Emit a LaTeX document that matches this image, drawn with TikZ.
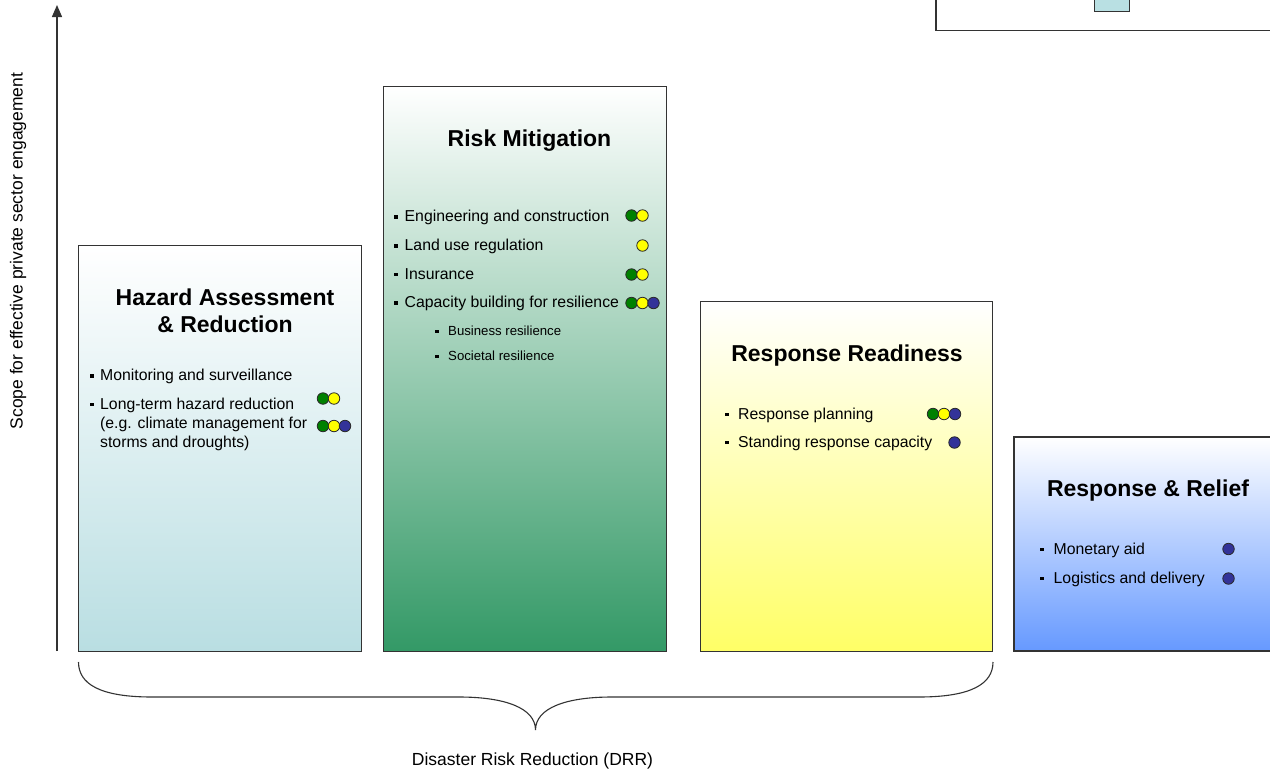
\documentclass[tikz,border=0pt]{standalone}
\usepackage{fontspec}
\setmainfont{Liberation Sans}
\usetikzlibrary{arrows.meta}
\definecolor{boxline}{HTML}{333333}
\definecolor{dotline}{HTML}{2A2A2A}
\definecolor{hzbot}{HTML}{B9DEE2}
\definecolor{hzmid}{HTML}{DCEFF1}
\definecolor{rmbot}{HTML}{339966}
\definecolor{rmmid}{HTML}{C4D8CC}
\definecolor{rrbot}{HTML}{FFFF66}
\definecolor{rrmid}{HTML}{FFFFC2}
\definecolor{rlbot}{HTML}{6699FF}
\definecolor{rlmid}{HTML}{C0D4FF}
\definecolor{dgreen}{HTML}{008000}
\definecolor{dyellow}{HTML}{FFFF00}
\definecolor{dblue}{HTML}{333399}
\definecolor{legfill}{HTML}{B9E0E3}
\tikzset{
  panel/.style={draw=boxline, line width=1.1pt, anchor=north west, inner sep=0pt},
  ttl/.style={anchor=base, inner sep=0pt, font=\bfseries\fontsize{23}{26}\selectfont},
  btext/.style={anchor=base west, inner sep=0pt, font=\fontsize{15.8}{18}\selectfont},
  stext/.style={anchor=base west, inner sep=0pt, font=\fontsize{13.2}{15}\selectfont},
  bul/.style={rectangle, fill=black, minimum size=3.8pt, inner sep=0pt},
  sbul/.style={rectangle, fill=black, minimum size=3.4pt, inner sep=0pt},
  dotbase/.style={circle, draw=dotline, line width=0.8pt, minimum size=11.5pt, inner sep=0pt},
  dg/.style={dotbase, fill=dgreen},
  dy/.style={dotbase, fill=dyellow},
  db/.style={dotbase, fill=dblue},
  axislabel/.style={inner sep=0pt, font=\fontsize{17.5}{20}\selectfont},
}
\begin{document}
\begin{tikzpicture}[x=1pt, y=-1pt]
\useasboundingbox (0,0) rectangle (1270,772);
\fill[white] (0,0) rectangle (1270,772);

% legend remnant (top right)
\coordinate (legTL) at (936,-3);
\coordinate (legBL) at (936,30.5);
\coordinate (legBR) at (1273,30.5);
\draw[boxline, line width=1.1pt] (legTL) -- (legBL) -- (legBR);
\node[draw=boxline, fill=legfill, line width=1.1pt, anchor=north west, inner sep=0pt,
      minimum width=35pt, minimum height=14pt] (legsq) at (1094,-3) {};

% axis
\coordinate (axbot) at (57,651);
\coordinate (axtop) at (57,5);
\draw[boxline, line width=1.4pt, -{Triangle[length=12pt,width=10pt]}] (axbot) -- (axtop);
\node[axislabel, rotate=90] (ylab) at (18,251) {Scope for effective private sector engagement};

% panels
\node[panel, minimum width=283pt, minimum height=406pt,
      top color=white, middle color=hzmid, bottom color=hzbot] (hz) at (78,245) {};
\node[panel, minimum width=283pt, minimum height=565pt,
      top color=white, middle color=rmmid, bottom color=rmbot] (rm) at (383,86) {};
\node[panel, minimum width=292pt, minimum height=350pt,
      top color=white, middle color=rrmid, bottom color=rrbot] (rr) at (700,301) {};
\coordinate (rlTR) at (1272,437);
\coordinate (rlTL) at (1014,437);
\coordinate (rlBL) at (1014,651);
\coordinate (rlBR) at (1272,651);
\path[top color=white, middle color=rlmid, bottom color=rlbot] (rlTL) rectangle (rlBR);
\draw[boxline, line width=1.1pt] (rlTR) -- (rlTL) -- (rlBL) -- (rlBR);

% Hazard Assessment & Reduction
\node[ttl] (hzt1) at (225,305) {Hazard Assessment};
\node[ttl] (hzt2) at (225,332) {\& Reduction};
\node[bul] (hzb1) at (92,376) {};
\node[btext] (hzl1) at (100,380.5) {Monitoring and surveillance};
\node[bul] (hzb2) at (92,404.5) {};
\node[btext] (hzl2) at (100,409) {Long-term hazard reduction};
\node[btext] (hzl3) at (100,428.5) {(e.g. climate management for};
\node[btext] (hzl4) at (100,447) {storms and droughts)};
\node[dg] (hzd1) at (323,398.5) {};
\node[dy] (hzd2) at (334,398.5) {};
\node[dg] (hzd3) at (323,426) {};
\node[dy] (hzd4) at (334,426) {};
\node[db] (hzd5) at (345,426) {};

% Risk Mitigation
\node[ttl] (rmt) at (529.5,146.5) {Risk Mitigation};
\node[bul] (rmb1) at (396,217) {};
\node[btext] (rml1) at (404.5,221.5) {Engineering and construction};
\node[bul] (rmb2) at (396,246) {};
\node[btext] (rml2) at (404.5,250.5) {Land use regulation};
\node[bul] (rmb3) at (396,274.5) {};
\node[btext] (rml3) at (404.5,279) {Insurance};
\node[bul] (rmb4) at (396,303) {};
\node[btext] (rml4) at (404.5,307.5) {Capacity building for resilience};
\node[sbul] (rmb5) at (437,331.5) {};
\node[stext] (rml5) at (448,335) {Business resilience};
\node[sbul] (rmb6) at (437,356.5) {};
\node[stext] (rml6) at (448,360) {Societal resilience};
\node[dg] (rmd1) at (631.5,215.5) {};
\node[dy] (rmd2) at (642.5,215.5) {};
\node[dy] (rmd3) at (642.5,245.5) {};
\node[dg] (rmd4) at (631.5,274.5) {};
\node[dy] (rmd5) at (642.5,274.5) {};
\node[dg] (rmd6) at (631.5,303) {};
\node[dy] (rmd7) at (642.5,303) {};
\node[db] (rmd8) at (653.5,303) {};

% Response Readiness
\node[ttl] (rrt) at (847,361) {Response Readiness};
\node[bul] (rrb1) at (727,414.5) {};
\node[btext] (rrl1) at (738,419) {Response planning};
\node[bul] (rrb2) at (727,442.5) {};
\node[btext] (rrl2) at (738,447) {Standing response capacity};
\node[dg] (rrd1) at (933,414) {};
\node[dy] (rrd2) at (944,414) {};
\node[db] (rrd3) at (955,414) {};
\node[db] (rrd4) at (954.5,442.5) {};

% Response & Relief
\node[ttl] (rlt) at (1148,496.5) {Response \& Relief};
\node[bul] (rlb1) at (1042,549.5) {};
\node[btext] (rll1) at (1053.5,554) {Monetary aid};
\node[bul] (rlb2) at (1042,578.5) {};
\node[btext] (rll2) at (1053.5,583) {Logistics and delivery};
\node[db] (rld1) at (1228.5,549) {};
\node[db] (rld2) at (1228.5,578.5) {};

% brace
\coordinate (brL) at (78.5,662);
\coordinate (brLh) at (152,697);
\coordinate (brLm) at (459,697);
\coordinate (brTip) at (535.5,730);
\coordinate (brRm) at (612,697);
\coordinate (brRh) at (919,697);
\coordinate (brR) at (993,662);
\draw[boxline, line width=1.1pt]
  (brL) .. controls (78.5,684) and (100,697) .. (brLh) -- (brLm)
        .. controls (505,697) and (535.5,708) .. (brTip)
        .. controls (535.5,708) and (566,697) .. (brRm) -- (brRh)
        .. controls (971,697) and (993,684) .. (brR);
\node[axislabel] (xlab) at (532.5,761) {Disaster Risk Reduction (DRR)};
\end{tikzpicture}
\end{document}
